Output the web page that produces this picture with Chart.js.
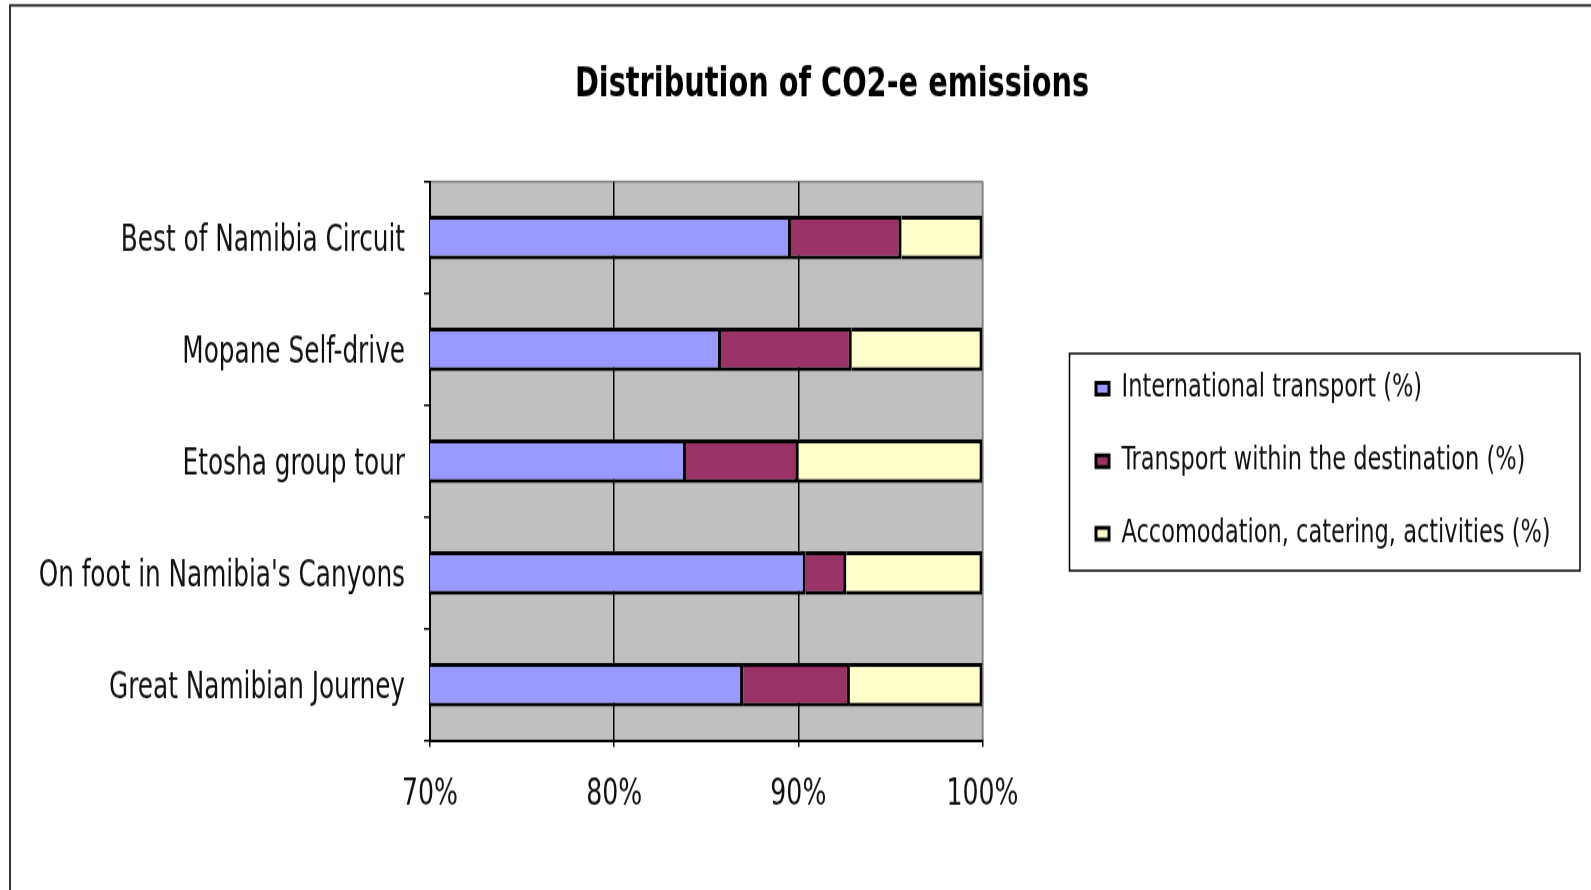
<!DOCTYPE html>
<html lang="en">
<head>
  <meta charset="UTF-8" />
  <title>Distribution of CO2-e emissions</title>
  <script src="https://cdn.jsdelivr.net/npm/chart.js"></script>
  <style>
    body {
      margin: 0;
      background: #fff;
    }
    .page {
      position: relative;
      width: 1591px;
      height: 890px;
      overflow: hidden;
    }
    /* the chart is drawn short and stretched tall, like the exported original */
    .stretch {
      position: absolute;
      left: 0;
      top: 0;
      width: 1644px;
      height: 685px;
      transform: scaleY(1.3);
      transform-origin: 0 0;
    }
    #co2Chart {
      display: block;
    }
  </style>
</head>
<body>
  <div class="page">
    <div class="stretch">
      <canvas id="co2Chart" width="1644" height="685"></canvas>
    </div>
  </div>

  <script>
    const tours = ['Best of Namibia Circuit', 'Mopane Self-drive', 'Etosha group tour', "On foot in Namibia's Canyons", 'Great Namibian Journey'];
    const intlTransport = [89.6, 85.8, 83.9, 90.4, 87.0];
    const localTransport = [6.0, 7.1, 6.1, 2.2, 5.8];
    const accommodation = [4.4, 7.1, 10.0, 7.4, 7.2];
    const percentTicks = [70, 80, 90, 100];

    const narrow = "'DejaVu Sans Condensed', 'Liberation Sans Narrow', sans-serif";
    const RIGHT_SPACE = 661.5;   // everything right of the plot
    const LEGEND_GAP = 82.7;     // plot edge to legend

    // grey plot area, the outer border, and a frame round the legend
    const frames = {
      id: 'frames',
      beforeDraw(chart) {
        const { ctx, chartArea: a } = chart;
        ctx.save();
        ctx.fillStyle = '#c0c0c0';
        ctx.fillRect(a.left, a.top, a.right - a.left, a.bottom - a.top);
        ctx.strokeStyle = '#808080';
        ctx.lineWidth = 1.5;
        ctx.strokeRect(a.left, a.top, a.right - a.left, a.bottom - a.top);
        ctx.strokeStyle = '#333';
        ctx.lineWidth = 2;
        ctx.strokeRect(10, 4.2, chart.width + 20, chart.height + 20);
        ctx.restore();
      },
      afterDraw(chart) {
        const boxes = chart.legend.legendHitBoxes;
        if (!boxes || !boxes.length) return;
        const first = boxes[0];
        const last = boxes[boxes.length - 1];
        const ctx = chart.ctx;
        ctx.save();
        ctx.strokeStyle = '#000';
        ctx.lineWidth = 1.5;
        ctx.strokeRect(first.left - 26.5, first.top - 14.5, 510.5, last.top + last.height - first.top + 30.4);
        ctx.restore();
      }
    };

    new Chart(document.getElementById('co2Chart'), {
      type: 'bar',
      data: {
        labels: tours,
        datasets: [
          { label: 'International transport (%)', data: intlTransport, backgroundColor: '#9999ff' },
          { label: 'Transport within the destination (%)', data: localTransport, backgroundColor: '#993366' },
          { label: 'Accomodation, catering, activities (%)', data: accommodation, backgroundColor: '#ffffcc' }
        ].map(ds => Object.assign(ds, {
          borderColor: '#000',
          borderWidth: 3,
          barPercentage: 0.39,
          categoryPercentage: 1
        }))
      },
      options: {
        indexAxis: 'y',
        responsive: false,
        animation: false,
        devicePixelRatio: 1,
        layout: { padding: { left: 20, right: 0, top: 0, bottom: 0 } },
        plugins: {
          title: {
            display: true,
            text: 'Distribution of CO2-e emissions',
            color: '#000',
            font: { family: narrow, size: 32, weight: 'bold', lineHeight: 1.2 },
            padding: { top: 46.3, bottom: 55 }
          },
          legend: {
            position: 'right',
            align: 'center',
            fullSize: false,
            maxWidth: 1000,
            labels: {
              color: '#111',
              font: { family: narrow, size: 25 },
              boxWidth: 13,
              boxHeight: 9,
              padding: 30.8
            }
          },
          tooltip: { enabled: false }
        },
        scales: {
          x: {
            stacked: true,
            min: 70,
            max: 100,
            afterBuildTicks(scale) {
              scale.ticks = percentTicks.map(v => ({ value: v }));
            },
            ticks: {
              callback: v => v + '%',
              color: '#111',
              font: { family: narrow, size: 28 },
              padding: 20.4
            },
            grid: {
              color: c => (c.tick && c.tick.value === 100 ? '#808080' : '#000'),
              lineWidth: 1.5,
              tickColor: '#000',
              tickLength: 4.6
            },
            border: { color: '#000', width: 2 },
            afterFit(scale) { scale.height = 115.2; }
          },
          y: {
            stacked: true,
            ticks: {
              color: '#111',
              font: { family: narrow, size: 27.5 },
              padding: 19,
              labelOffset: 3
            },
            grid: { drawOnChartArea: false, color: '#000', lineWidth: 1.5, tickLength: 6 },
            border: { color: '#000', width: 2 },
            afterFit(scale) { scale.width = 410; }
          },
          // empty axes: one keeps the gap before the legend, one pads out the right side
          gap: {
            type: 'category',
            position: 'right',
            grid: { display: false },
            ticks: { display: false },
            border: { display: false },
            afterFit(scale) { scale.width = LEGEND_GAP; }
          },
          edge: {
            type: 'category',
            position: 'right',
            weight: 2000,
            grid: { display: false },
            ticks: { display: false },
            border: { display: false },
            afterFit(scale) {
              const legend = scale.chart.legend;
              scale.width = Math.max(0, RIGHT_SPACE - LEGEND_GAP - (legend ? legend.width : 0));
            }
          }
        }
      },
      plugins: [frames]
    });
  </script>
</body>
</html>
